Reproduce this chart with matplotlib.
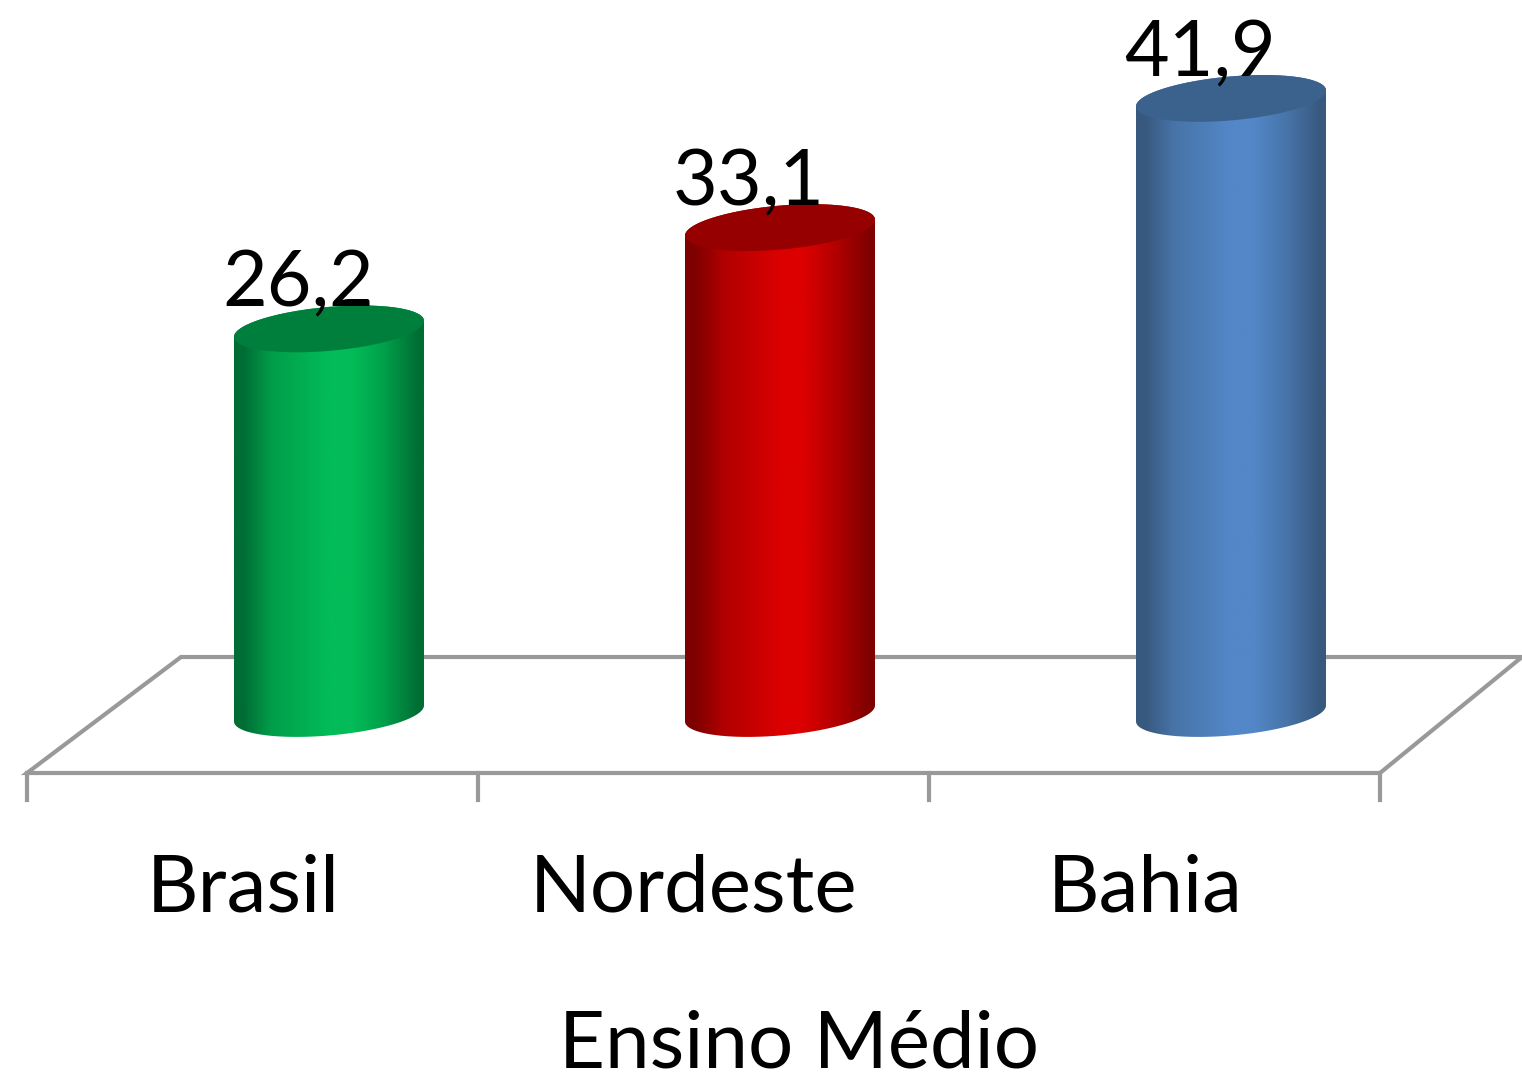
import numpy as np
import matplotlib.pyplot as plt
from matplotlib.colors import LinearSegmentedColormap
from matplotlib.patches import PathPatch, Polygon
from matplotlib.path import Path

categories = ["Brasil", "Nordeste", "Bahia"]
values = [26.2, 33.1, 41.9]
value_labels = ["26,2", "33,1", "41,9"]
axis_title = "Ensino Médio"

# colours of the cylinder shading and the top cap
body_edge = ["#006d34", "#7e0000", "#38597f"]
body_left = ["#009e4a", "#b00000", "#4774a8"]
body_mid = ["#03bc58", "#dc0000", "#5387c8"]
cap_color = ["#007f3c", "#960000", "#3b618d"]
line_color = "#999999"

W, H = 1522, 1075
X0, Y0 = 329, 713.5
X_SCALE, Y_SCALE = 451, 14.68

plt.rcParams['font.family'] = ['Lato', 'DejaVu Sans']

fig = plt.figure(figsize=(W / 100, H / 100), dpi=100)
ax = fig.add_axes([0, 0, 1, 1])


def px(x, y):
    return (x - X0) / X_SCALE, (Y0 - y) / Y_SCALE


ax.axis('off')

# floor of the 3d chart
floor = [px(27, 773), px(1380, 773), px(1522, 657), px(181, 657)]
ax.add_patch(Polygon(floor, closed=True, facecolor='white', edgecolor=line_color,
                     linewidth=3, zorder=1))
for tx in [27, 478, 929, 1380]:
    x0, y0 = px(tx, 773)
    x1, y1 = px(tx, 800)
    ax.plot([x0, x1], [y0, y1], color=line_color, linewidth=3, zorder=1)

half_w = 95 / X_SCALE
half_h = 22 / Y_SCALE
tilt = 8 / Y_SCALE


def ellipse_pts(cx, cy, t):
    # tilted ellipse, right side sits higher than left
    ex = cx + half_w * np.cos(t)
    ey = cy + half_h * np.sin(t) + tilt * np.cos(t)
    return ex, ey


for i, v in enumerate(values):
    bx, by = ellipse_pts(i, 0, np.linspace(np.pi, 2 * np.pi, 60))
    tx, ty = ellipse_pts(i, v, np.linspace(0, np.pi, 60))
    verts = np.column_stack([np.r_[bx, tx], np.r_[by, ty]])
    clip = PathPatch(Path(np.vstack([verts, verts[0]])), facecolor='none',
                     edgecolor='none', transform=ax.transData)
    ax.add_patch(clip)
    cmap = LinearSegmentedColormap.from_list(
        "body", [(0, body_edge[i]), (0.05, body_edge[i]), (0.2, body_left[i]),
                 (0.5, body_mid[i]), (0.62, body_mid[i]), (0.8, body_left[i]),
                 (0.97, body_edge[i]), (1, body_edge[i])])
    grad = np.linspace(0, 1, 256).reshape(1, -1)
    im = ax.imshow(grad, cmap=cmap, aspect='auto', zorder=2,
                   extent=[i - half_w, i + half_w, -3, v + 3])
    im.set_clip_path(clip)
    # top cap
    cx, cy = ellipse_pts(i, v, np.linspace(0, 2 * np.pi, 120))
    ax.fill(cx, cy, color=cap_color[i], zorder=3, linewidth=0)
    # value label sits left of the bar centre, over the cap
    ax.text(i - 31 / X_SCALE, v + 22 / Y_SCALE, value_labels[i], ha='center', va='baseline',
            fontsize=55.5, color='black', zorder=4)

# imshow changes the limits, so set them last
ax.set_xlim(-X0 / X_SCALE, (W - X0) / X_SCALE)
ax.set_ylim(-(H - Y0) / Y_SCALE, Y0 / Y_SCALE)

for i, c in enumerate(categories):
    lx, ly = px(243 + 451 * i, 911)
    ax.text(lx, ly, c, ha='center', va='baseline', fontsize=57.5, color='black')

tx, ty = px(799, 1067)
ax.text(tx, ty, axis_title, ha='center', va='baseline', fontsize=57.5, color='black')

fig.savefig("out.png", dpi=100)
